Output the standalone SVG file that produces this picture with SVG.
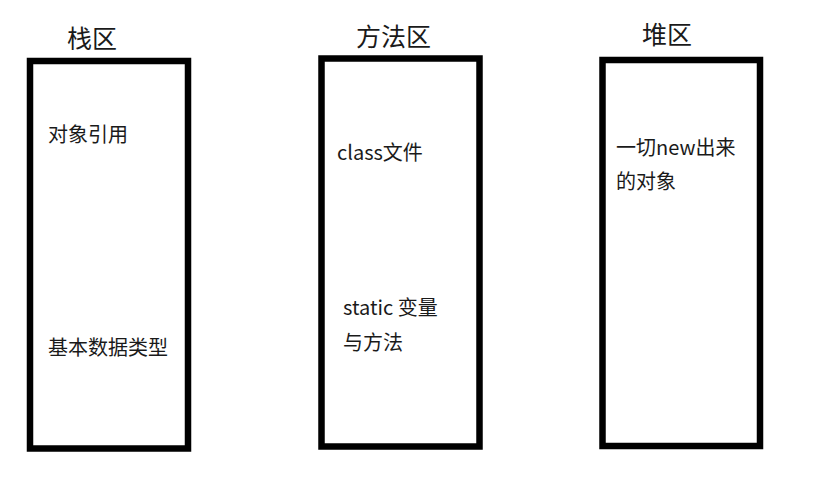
<svg xmlns="http://www.w3.org/2000/svg" width="830" height="498" viewBox="0 0 830 498">
<style>
.box{fill:#fff;stroke:#000;stroke-width:6.5}
.t{font-family:"Noto Sans CJK SC","Noto Sans",sans-serif;fill:#1a1a1a}
.title{font-size:25px}
.lbl{font-size:20px}
</style>
<rect width="830" height="498" fill="#fff"/>
<g id="stack">
<rect class="box" x="30" y="61" width="158" height="387.5"/>
<text class="t title" x="67" y="48">栈区</text>
<text class="t lbl" x="48" y="142">对象引用</text>
<text class="t lbl" x="48" y="355">基本数据类型</text>
</g>
<g id="method">
<rect class="box" x="321.5" y="58.5" width="158" height="388"/>
<text class="t title" x="356" y="46">方法区</text>
<text class="t lbl" x="337" y="160">class文件</text>
<text class="t lbl" x="343" y="315">static 变量</text>
<text class="t lbl" x="343" y="350">与方法</text>
</g>
<g id="heap">
<rect class="box" x="602.5" y="60" width="157.5" height="386"/>
<text class="t title" x="642" y="44">堆区</text>
<text class="t lbl" x="616" y="155">一切new出来</text>
<text class="t lbl" x="616" y="189">的对象</text>
</g>
<g id="connectors"></g>
</svg>
